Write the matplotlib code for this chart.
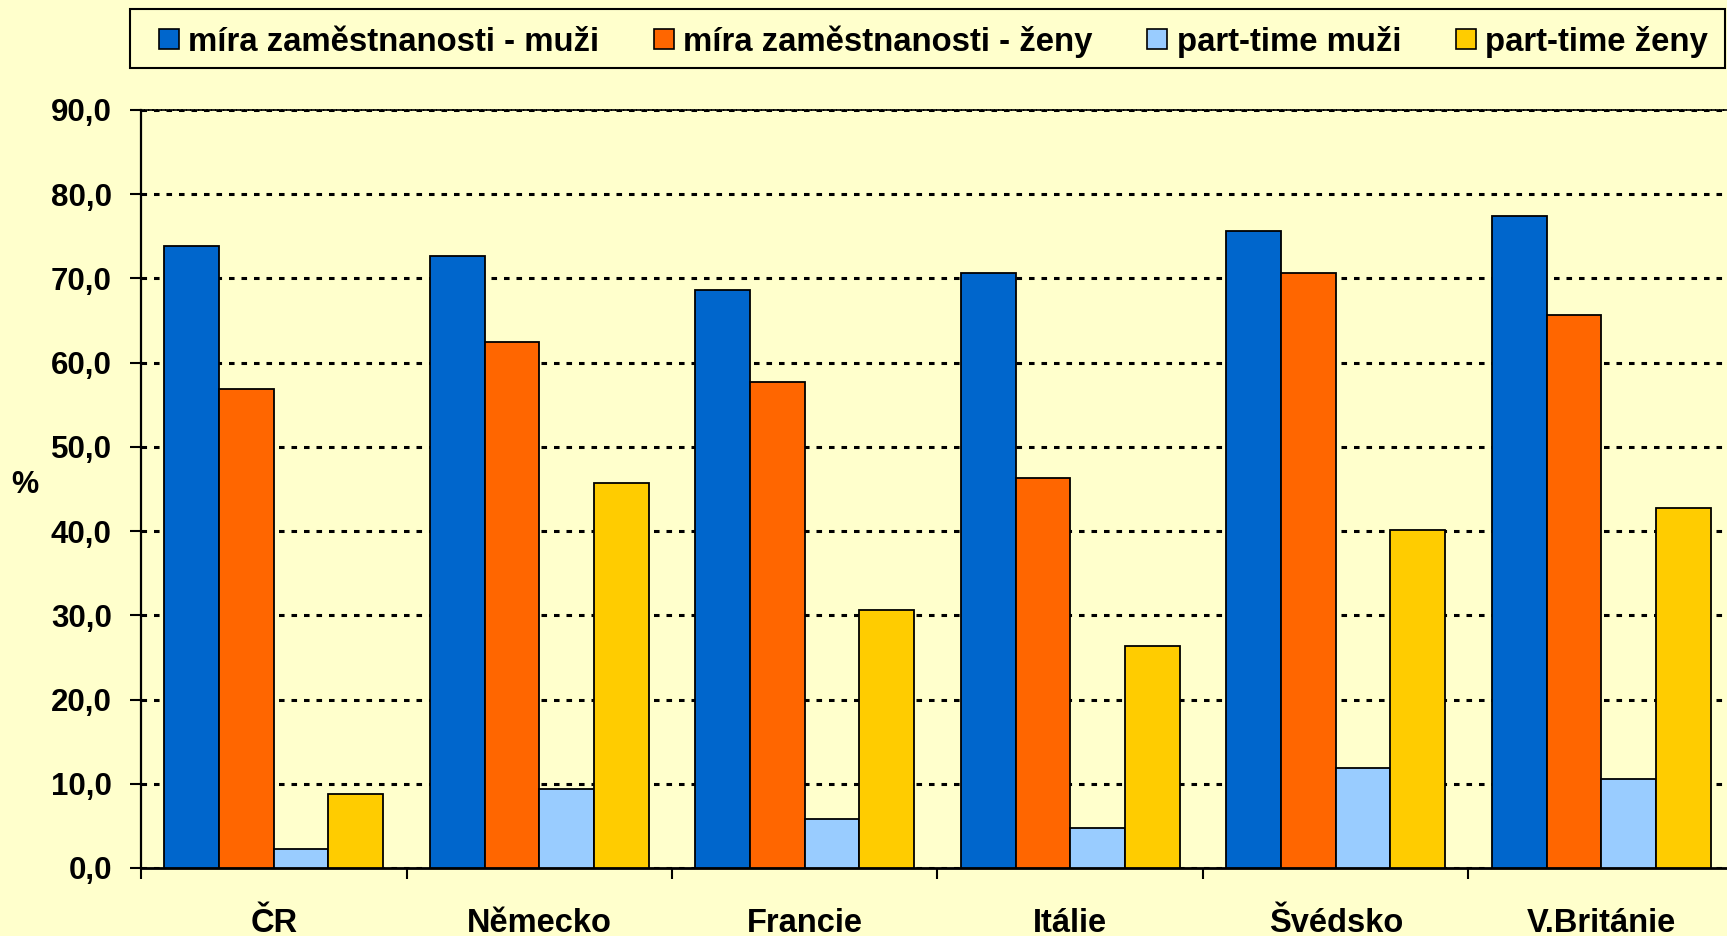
import matplotlib
matplotlib.use("Agg")
import matplotlib.pyplot as plt
from matplotlib.patches import Rectangle, Patch
import numpy as np

plt.rcParams['font.family'] = ['Liberation Sans', 'DejaVu Sans']
plt.rcParams['font.weight'] = 'bold'
plt.rcParams['lines.scale_dashes'] = False

categories = ["ČR", "Německo", "Francie", "Itálie", "Švédsko", "V.Británie"]
series_names = ["míra zaměstnanosti - muži", "míra zaměstnanosti - ženy",
                "part-time muži", "part-time ženy"]
emp_men = [73.8, 72.7, 68.6, 70.6, 75.6, 77.4]
emp_women = [56.9, 62.4, 57.7, 46.3, 70.6, 65.7]
pt_men = [2.3, 9.4, 5.8, 4.7, 11.9, 10.6]
pt_women = [8.8, 45.7, 30.6, 26.4, 40.1, 42.7]
yticks = [0, 10, 20, 30, 40, 50, 60, 70, 80, 90]

colors = ["#0066CC", "#FF6600", "#99CCFF", "#FFCC00"]
bg = "#FFFFCC"

W, H = 1727, 936
fig = plt.figure(figsize=(W / 100, H / 100), dpi=100, facecolor=bg)
ax = fig.add_axes([141 / W, (H - 868) / H, 1593 / W, 758 / H], facecolor=bg)

x = np.arange(len(categories))
bw = 0.206
all_series = [emp_men, emp_women, pt_men, pt_women]
for i, (vals, c, name) in enumerate(zip(all_series, colors, series_names)):
    ax.bar(x + (i - 1.5) * bw, vals, width=bw, color=c, edgecolor="black",
           linewidth=1.3, label=name, zorder=3)

ax.set_xlim(-0.5, len(categories) - 0.5)
ax.set_ylim(0, 90)
ax.set_yticks(yticks)
ax.set_yticklabels([f"{v:.1f}".replace(".", ",") for v in yticks], fontsize=22.5,
                   fontweight="bold")
ax.tick_params(axis="y", direction="out", length=8, width=1.5, pad=13)

# x: boundary ticks (major), labels at centers (minor)
ax.set_xticks(np.arange(-0.5, len(categories) + 0.5, 1.0))
ax.set_xticklabels([])
ax.tick_params(axis="x", which="major", direction="out", length=8, width=1.5)
ax.set_xticks(x, minor=True)
ax.set_xticklabels(categories, minor=True, fontsize=23.5, fontweight="bold")
ax.tick_params(axis="x", which="minor", length=0, pad=46)
for lbl in ax.get_xticklabels(minor=True):
    lbl.set_va("baseline")

ax.yaxis.grid(True, color="black", linewidth=2.2, linestyle=(0, (4.0, 5.0)), zorder=1)
ax.set_axisbelow(True)

ax.spines["right"].set_visible(False)
ax.spines["top"].set_linewidth(1.2)
ax.spines["top"].set_linestyle((0, (2.2, 0.8)))
ax.spines["left"].set_linewidth(1.6)
ax.spines["bottom"].set_linewidth(2.0)

ax.set_ylabel("%", rotation=0, fontsize=22, fontweight="bold")
ax.yaxis.label.set_va("center")
ax.yaxis.set_label_coords((25 - 141) / 1593, (868 - 485) / 758)

# legend
handles = [Patch(facecolor=c, edgecolor="black", linewidth=1.2) for c in colors]
fs = 23.7
leg = fig.legend(handles, series_names, ncol=4, loc="center left",
                 bbox_to_anchor=(159 / W, 1 - 41.5 / H), frameon=False,
                 borderpad=0, borderaxespad=0,
                 handlelength=0.61, handleheight=0.58, handletextpad=0.28,
                 columnspacing=1.66, prop={"weight": "bold", "size": fs})
fig.patches.append(Rectangle((130 / W, 1 - 68 / H), (1725 - 130) / W, 59 / H,
                             transform=fig.transFigure, fill=False,
                             edgecolor="black", linewidth=1.5))

fig.savefig("out.png", dpi=100, facecolor=bg)
